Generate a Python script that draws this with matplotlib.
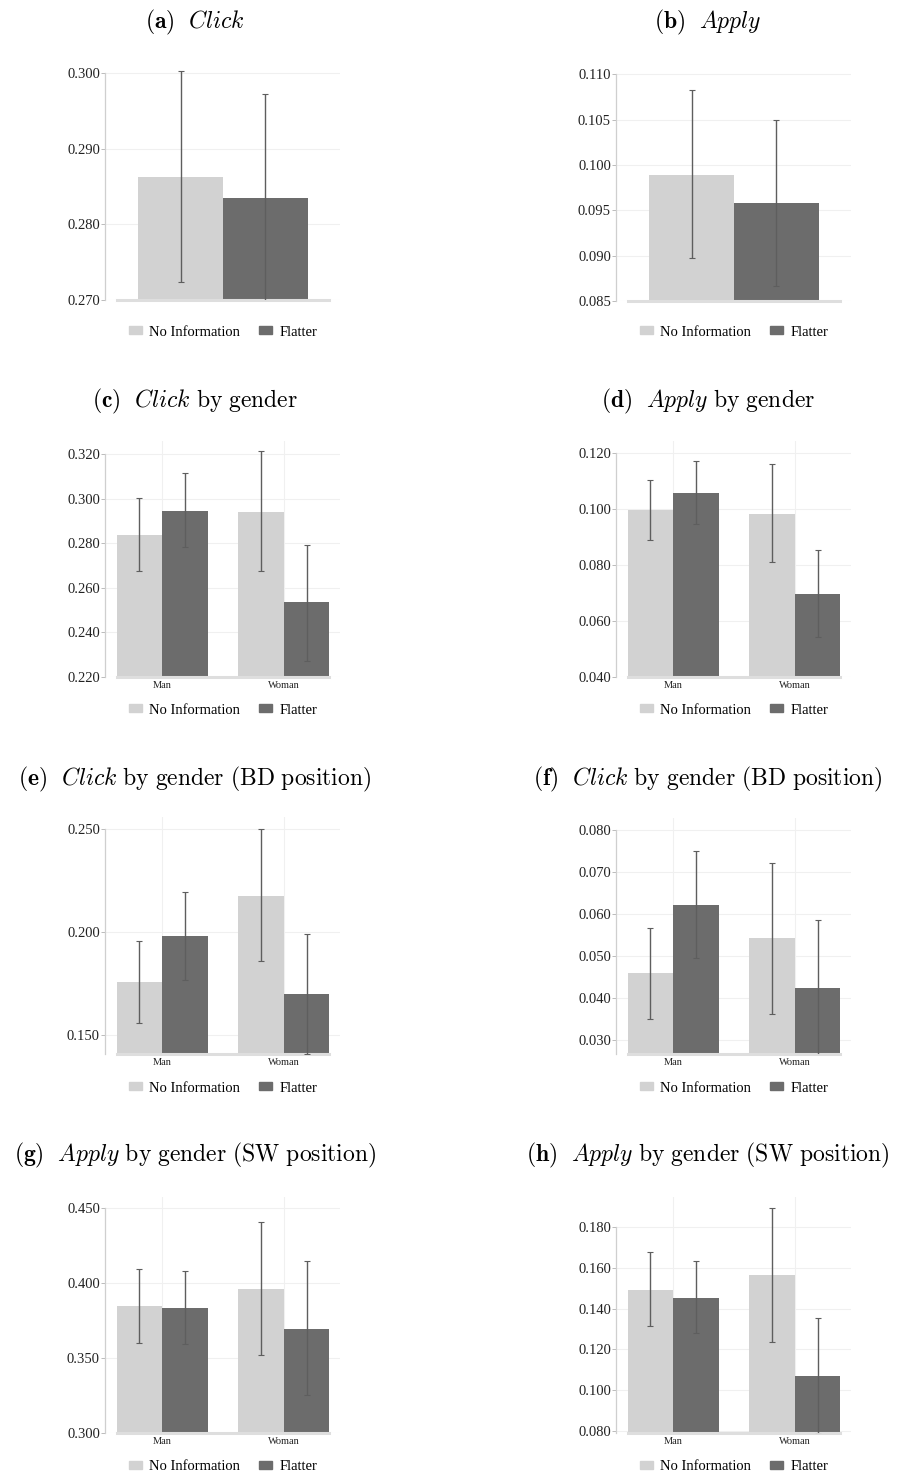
import numpy as np
import matplotlib
matplotlib.use("Agg")
import matplotlib.pyplot as plt
from matplotlib.patches import Patch

plt.rcParams['font.family'] = 'serif'
plt.rcParams['font.serif'] = ['Liberation Serif', 'DejaVu Serif']
plt.rcParams['mathtext.fontset'] = 'cm'

# data
series = ["No Information", "Flatter"]
groups = ["Man", "Woman"]

# (a) Click
click_mean = [0.2863, 0.2835]
click_lo = [0.2724, 0.2698]
click_hi = [0.3002, 0.2972]
# (b) Apply
apply_mean = [0.0989, 0.0958]
apply_lo = [0.0897, 0.0867]
apply_hi = [0.1083, 0.1049]

# (c) Click by gender  [Man, Woman]
c_noinfo = [0.2837, 0.2941]
c_noinfo_lo = [0.2675, 0.2675]
c_noinfo_hi = [0.3001, 0.3215]
c_flatter = [0.2946, 0.2534]
c_flatter_lo = [0.2782, 0.2273]
c_flatter_hi = [0.3113, 0.2794]
# (d) Apply by gender
d_noinfo = [0.0995, 0.0984]
d_noinfo_lo = [0.0888, 0.0811]
d_noinfo_hi = [0.1105, 0.1162]
d_flatter = [0.1059, 0.0698]
d_flatter_lo = [0.0945, 0.0543]
d_flatter_hi = [0.1171, 0.0853]
# (e) Click by gender (BD position)
e_noinfo = [0.1755, 0.2176]
e_noinfo_lo = [0.1558, 0.1857]
e_noinfo_hi = [0.1954, 0.2500]
e_flatter = [0.1982, 0.1699]
e_flatter_lo = [0.1768, 0.1408]
e_flatter_hi = [0.2194, 0.1990]
# (f) Click by gender (BD position)
f_noinfo = [0.0459, 0.0542]
f_noinfo_lo = [0.0349, 0.0362]
f_noinfo_hi = [0.0567, 0.0722]
f_flatter = [0.0621, 0.0423]
f_flatter_lo = [0.0495, 0.0262]
f_flatter_hi = [0.0751, 0.0586]
# (g) Apply by gender (SW position)
g_noinfo = [0.3849, 0.3960]
g_noinfo_lo = [0.3600, 0.3522]
g_noinfo_hi = [0.4093, 0.4404]
g_flatter = [0.3833, 0.3693]
g_flatter_lo = [0.3595, 0.3256]
g_flatter_hi = [0.4082, 0.4149]
# (h) Apply by gender (SW position)
h_noinfo = [0.1492, 0.1566]
h_noinfo_lo = [0.1316, 0.1238]
h_noinfo_hi = [0.1675, 0.1893]
h_flatter = [0.1454, 0.1071]
h_flatter_lo = [0.1279, 0.0786]
h_flatter_hi = [0.1634, 0.1356]

ticks_a = [0.270, 0.280, 0.290, 0.300]
ticks_b = [0.085, 0.090, 0.095, 0.100, 0.105, 0.110]
ticks_c = [0.22, 0.24, 0.26, 0.28, 0.30, 0.32]
ticks_d = [0.04, 0.06, 0.08, 0.10, 0.12]
ticks_e = [0.15, 0.20, 0.25]
ticks_f = [0.03, 0.04, 0.05, 0.06, 0.07, 0.08]
ticks_g = [0.30, 0.35, 0.40, 0.45]
ticks_h = [0.08, 0.10, 0.12, 0.14, 0.16, 0.18]

titles = [
    r"$\mathbf{(a)}\ \ \mathit{Click}$",
    r"$\mathbf{(b)}\ \ \mathit{Apply}$",
    r"$\mathbf{(c)}\ \ \mathit{Click}\ \mathrm{by\ gender}$",
    r"$\mathbf{(d)}\ \ \mathit{Apply}\ \mathrm{by\ gender}$",
    r"$\mathbf{(e)}\ \ \mathit{Click}\ \mathrm{by\ gender\ (BD\ position)}$",
    r"$\mathbf{(f)}\ \ \mathit{Click}\ \mathrm{by\ gender\ (BD\ position)}$",
    r"$\mathbf{(g)}\ \ \mathit{Apply}\ \mathrm{by\ gender\ (SW\ position)}$",
    r"$\mathbf{(h)}\ \ \mathit{Apply}\ \mathrm{by\ gender\ (SW\ position)}$",
]

LIGHT = '#d2d2d2'
DARK = '#6c6c6c'
ERR = '#5e5e5e'
W, H = 904, 1477

fig = plt.figure(figsize=(W / 100, H / 100), dpi=100)


def px_axes(left, bottom, top, width=235):
    return fig.add_axes([left / W, 1 - bottom / H, width / W, (bottom - top) / H])


def style(ax, ylim, ticks, xlim, xbounds):
    ax.set_xlim(*xlim)
    ax.set_ylim(*ylim)
    ax.set_yticks(ticks)
    ax.set_yticklabels(["%.3f" % t for t in ticks], fontsize=10.5, color='#222222')
    for s in ['top', 'right']:
        ax.spines[s].set_visible(False)
    ax.spines['left'].set_color('#cfcfcf')
    ax.spines['left'].set_linewidth(0.9)
    ax.spines['left'].set_bounds(ylim[0], ticks[-1])
    ax.spines['bottom'].set_color('#dedede')
    ax.spines['bottom'].set_linewidth(2.2)
    ax.spines['bottom'].set_bounds(*xbounds)
    ax.tick_params(axis='y', length=3, width=0.7, color='#bbbbbb', pad=1)
    ax.tick_params(axis='x', length=0, pad=3, labelsize=7.5, colors='#222222')
    for t in ticks:
        ax.axhline(t, color='#f0f0f0', lw=0.8, zorder=0)


def legend(ax, cx, cy):
    handles = [Patch(color=LIGHT), Patch(color=DARK)]
    ax.legend(handles, series, loc='center', bbox_to_anchor=(cx / W, 1 - cy / H),
              bbox_transform=fig.transFigure, ncol=2, frameon=False,
              fontsize=10.5, handlelength=0.9, handleheight=0.45,
              handletextpad=0.5, columnspacing=1.3, borderpad=0)


cols = [105.5, 616.5]
title_x = [195, 708]
errkw = dict(fmt='none', ecolor=ERR, elinewidth=1.0, capsize=2, capthick=0.8, zorder=3)

# ---- row 1: single-group panels ----
single = [
    (click_mean, click_lo, click_hi, ticks_a, (0.270, 0.3009), 300, 66),
    (apply_mean, apply_lo, apply_hi, ticks_b, (0.085, 0.1109), 301, 66),
]
for i, (mean, lo, hi, ticks, ylim, bot, top) in enumerate(single):
    ax = px_axes(cols[i], bot, top)
    xs = np.array([-0.35, 0.35])
    ax.bar(xs, mean, width=0.7, color=[LIGHT, DARK], zorder=2)
    m = np.array(mean)
    ax.errorbar(xs, m, yerr=[m - np.array(lo), np.array(hi) - m], **errkw)
    style(ax, ylim, ticks, (-0.971, 0.971), (-0.876, 0.876))
    ax.set_xticks([])
    legend(ax, cols[i] + 117.5, 332)
    fig.text(title_x[i] / W, 1 - 22 / H, titles[i], ha='center', va='center', fontsize=17)

# ---- rows 2-4: grouped panels ----
grouped = [
    (c_noinfo, c_noinfo_lo, c_noinfo_hi, c_flatter, c_flatter_lo, c_flatter_hi,
     ticks_c, (0.220, 0.3258), 677, 441, 401, 710),
    (d_noinfo, d_noinfo_lo, d_noinfo_hi, d_flatter, d_flatter_lo, d_flatter_hi,
     ticks_d, (0.040, 0.1243), 677, 441, 401, 710),
    (e_noinfo, e_noinfo_lo, e_noinfo_hi, e_flatter, e_flatter_lo, e_flatter_hi,
     ticks_e, (0.1406, 0.2558), 1054, 817, 779, 1088),
    (f_noinfo, f_noinfo_lo, f_noinfo_hi, f_flatter, f_flatter_lo, f_flatter_hi,
     ticks_f, (0.0266, 0.0829), 1054, 818, 779, 1088),
    (g_noinfo, g_noinfo_lo, g_noinfo_hi, g_flatter, g_flatter_lo, g_flatter_hi,
     ticks_g, (0.300, 0.4573), 1433, 1197, 1155, 1467),
    (h_noinfo, h_noinfo_lo, h_noinfo_hi, h_flatter, h_flatter_lo, h_flatter_hi,
     ticks_h, (0.079, 0.1947), 1433, 1197, 1155, 1467),
]
bw = 0.376
for k, (n, nlo, nhi, fl, flo, fhi, ticks, ylim, bot, top, ty, ly) in enumerate(grouped):
    col = k % 2
    ax = px_axes(cols[col], bot, top)
    x = np.arange(len(groups))
    ax.bar(x - bw / 2, n, width=bw, color=LIGHT, zorder=2)
    ax.bar(x + bw / 2, fl, width=bw, color=DARK, zorder=2)
    n, fl = np.array(n), np.array(fl)
    ax.errorbar(x - bw / 2, n, yerr=[n - np.array(nlo), np.array(nhi) - n], **errkw)
    ax.errorbar(x + bw / 2, fl, yerr=[fl - np.array(flo), np.array(fhi) - fl], **errkw)
    for gx in x:
        ax.axvline(gx, color='#f0f0f0', lw=0.8, zorder=0)
    style(ax, ylim, ticks, (-0.467, 1.467), (-bw, 1 + bw))
    ax.set_xticks(x)
    ax.set_xticklabels(groups)
    legend(ax, cols[col] + 117.5, ly)
    fig.text(title_x[col] / W, 1 - ty / H, titles[k + 2], ha='center', va='center', fontsize=17)

fig.savefig("out.png", dpi=100)
